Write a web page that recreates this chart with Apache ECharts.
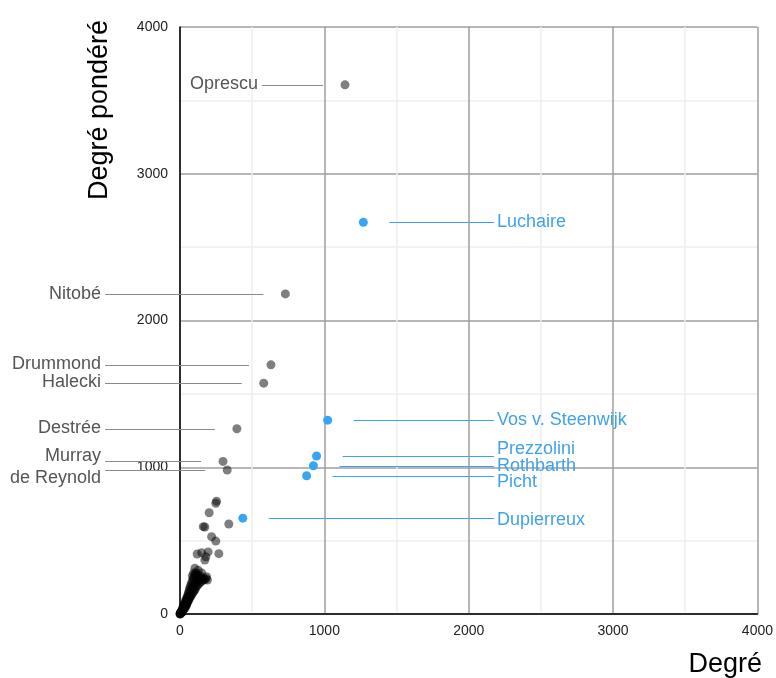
<!DOCTYPE html>
<html>
<head>
<meta charset="utf-8">
<script src="https://cdn.jsdelivr.net/npm/echarts@6/dist/echarts.min.js"></script>
<style>
html, body { margin: 0; padding: 0; background: #fff; }
#chart { width: 776px; height: 678px; }
</style>
</head>
<body>
<div id="chart"></div>
<script>
// points nommés (degré, degré pondéré)
var namedLabels   = ['Oprescu', 'Nitobé', 'Drummond', 'Halecki', 'Destrée', 'Murray', 'de Reynold',
                     'Luchaire', 'Vos v. Steenwijk', 'Prezzolini', 'Rothbarth', 'Picht', 'Dupierreux'];
var namedDegree   = [1143, 730, 630, 580, 394, 298, 327, 1270, 1023, 946, 924, 877, 435];
var namedWeighted = [3606, 2181, 1698, 1573, 1262, 1040, 981, 2669, 1321, 1077, 1010, 942, 653];
var namedGroup    = ['gray', 'gray', 'gray', 'gray', 'gray', 'gray', 'gray',
                     'blue', 'blue', 'blue', 'blue', 'blue', 'blue'];

// autres points (sans étiquette)
var otherPoints = [
  [253, 769], [248, 755], [202, 690], [338, 613], [161, 595], [172, 593], [219, 527], [248, 497],
  [269, 411], [119, 409], [150, 418], [179, 390], [195, 423], [172, 368], [103, 311], [126, 298],
  [184, 254], [161, 232],
  [0, 0], [1, 1], [2, 2], [1, 4], [3, 3], [4, 6], [5, 5], [6, 9], [7, 12], [8, 8], [9, 15], [10, 11],
  [11, 20], [12, 14], [13, 25], [15, 18], [16, 30], [17, 22], [19, 35], [20, 26], [21, 42], [23, 30],
  [24, 50], [26, 35], [27, 58], [29, 40], [30, 66], [32, 45], [34, 75], [36, 50], [37, 85], [39, 58],
  [41, 95], [43, 62], [45, 105], [47, 70], [49, 115], [51, 78], [53, 125], [55, 85], [57, 138], [59, 95],
  [61, 150], [63, 100], [65, 165], [67, 110], [69, 180], [72, 118], [74, 195], [77, 125], [80, 210],
  [82, 135], [85, 225], [88, 145], [91, 240], [94, 155], [97, 250], [100, 160], [103, 265], [106, 170],
  [109, 280], [113, 185], [117, 270], [121, 195], [125, 260], [130, 205], [135, 250], [140, 215],
  [145, 240], [150, 225], [160, 245], [170, 235], [180, 240], [190, 232], [60, 120], [70, 150],
  [90, 190], [110, 220], [130, 230], [50, 100], [40, 80], [30, 55], [80, 170], [100, 200], [120, 240],
  [140, 260], [150, 280], [95, 280], [85, 260], [25, 30], [35, 40], [45, 60], [20, 45], [15, 12]
];

// ticks
var axisTicks = [0, 1000, 2000, 3000, 4000];

// mise en page des étiquettes (pixels)
var labelLayout = {
  'Oprescu':          { side: 'left',  lineX: 262, ty: -1 },
  'Nitobé':           { side: 'left',  lineX: 105, ty: 0 },
  'Drummond':         { side: 'left',  lineX: 105, ty: -1 },
  'Halecki':          { side: 'left',  lineX: 105, ty: -1 },
  'Destrée':          { side: 'left',  lineX: 105, ty: -1 },
  'Murray':           { side: 'left',  lineX: 105, ty: -5 },
  'de Reynold':       { side: 'left',  lineX: 105, ty: 8 },
  'Luchaire':         { side: 'right', lineX: 494, ty: 0 },
  'Vos v. Steenwijk': { side: 'right', lineX: 494, ty: 0 },
  'Prezzolini':       { side: 'right', lineX: 494, ty: -7 },
  'Rothbarth':        { side: 'right', lineX: 494, ty: 0 },
  'Picht':            { side: 'right', lineX: 494, ty: 6 },
  'Dupierreux':       { side: 'right', lineX: 494, ty: 2 }
};

var grayText = '#555555', grayLine = '#8a8a8a';
var blueDot = '#36a5f5', blueText = '#3fa2ea', blueLine = '#3aa2f0';
var fontFam = '"Liberation Sans", Arial, sans-serif';

var chart = echarts.init(document.getElementById('chart'));

var grayNamed = [], blueNamed = [], labelData = [];
for (var i = 0; i < namedLabels.length; i++) {
  var pt = [namedDegree[i], namedWeighted[i], i];
  if (namedGroup[i] === 'blue') blueNamed.push(pt); else grayNamed.push(pt);
  labelData.push(pt);
}

function axisCommon() {
  return {
    type: 'value',
    min: 0,
    max: 4000,
    interval: 1000,
    axisLine: { show: true, onZero: false, lineStyle: { color: '#000', width: 1.5 } },
    axisTick: { show: false },
    axisLabel: {
      color: '#222', fontSize: 14, fontFamily: fontFam,
      formatter: function (v) { return axisTicks.indexOf(v) >= 0 ? String(v) : ''; }
    },
    splitLine: { show: true, lineStyle: { color: '#9e9e9e', width: 1.5 } },
    minorTick: { show: false, splitNumber: 2 },
    minorSplitLine: { show: true, lineStyle: { color: '#eeeeee', width: 1.5 } }
  };
}

var xAxis = axisCommon();
xAxis.axisLabel.margin = 10;
var yAxis = axisCommon();
yAxis.axisLabel.margin = 12;

var option = {
  animation: false,
  backgroundColor: '#fff',
  grid: { left: 180, right: 16, top: 27, bottom: 64, containLabel: false },
  xAxis: xAxis,
  yAxis: yAxis,
  graphic: [
    {
      type: 'text', x: 100, y: 110, rotation: Math.PI / 2,
      style: { text: 'Degré pondéré', fill: '#000', fontSize: 27, fontFamily: fontFam,
               align: 'center', verticalAlign: 'middle' }
    },
    {
      type: 'text', x: 762, y: 665,
      style: { text: 'Degré', fill: '#000', fontSize: 27, fontFamily: fontFam,
               align: 'right', verticalAlign: 'middle' }
    }
  ],
  series: [
    {
      type: 'custom',
      clip: false,
      silent: true,
      data: labelData,
      renderItem: function (params, api) {
        var idx = api.value(2);
        var name = namedLabels[idx];
        var lay = labelLayout[name];
        var p = api.coord([api.value(0), api.value(1)]);
        var blue = namedGroup[idx] === 'blue';
        var x1, x2, tx, align;
        if (lay.side === 'left') {
          x1 = lay.lineX; x2 = p[0] - 22; tx = lay.lineX - 4; align = 'right';
        } else {
          x1 = p[0] + 26; x2 = lay.lineX; tx = lay.lineX + 3; align = 'left';
        }
        var ly = Math.round(p[1]) + 0.5;
        return {
          type: 'group',
          children: [
            { type: 'line', shape: { x1: x1, y1: ly, x2: x2, y2: ly },
              style: { stroke: blue ? blueLine : grayLine, lineWidth: 1 } },
            { type: 'text', x: tx, y: p[1] + lay.ty,
              style: { text: name, fill: blue ? blueText : grayText, fontSize: 18,
                       fontFamily: fontFam, align: align, verticalAlign: 'middle' } }
          ]
        };
      }
    },
    {
      type: 'scatter',
      symbolSize: 9,
      data: otherPoints,
      itemStyle: { color: '#000', opacity: 0.5 },
      z: 3
    },
    {
      type: 'scatter',
      symbolSize: 9,
      data: grayNamed,
      itemStyle: { color: '#000', opacity: 0.5 },
      z: 3
    },
    {
      type: 'scatter',
      symbolSize: 9,
      data: blueNamed,
      itemStyle: { color: blueDot, opacity: 1 },
      z: 4
    }
  ]
};

chart.setOption(option);
</script>
</body>
</html>
